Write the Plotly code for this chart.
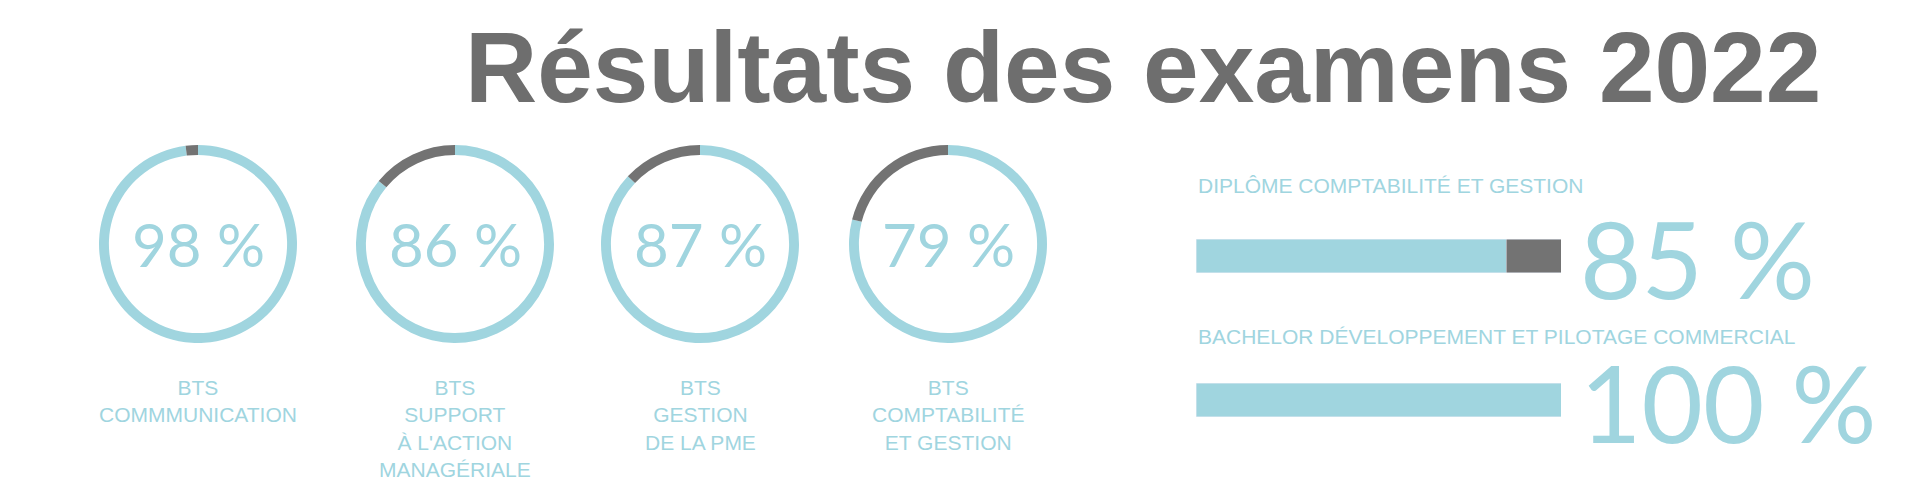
import plotly.graph_objects as go

title = "Résultats des examens 2022"
donut_labels = ["BTS<br>COMMMUNICATION", "BTS<br>SUPPORT<br>À L'ACTION<br>MANAGÉRIALE",
                "BTS<br>GESTION<br>DE LA PME", "BTS<br>COMPTABILITÉ<br>ET GESTION"]
donut_values = [98, 86, 87, 79]
bar_labels = ["DIPLÔME COMPTABILITÉ ET GESTION", "BACHELOR DÉVELOPPEMENT ET PILOTAGE COMMERCIAL"]
bar_values = [85, 100]

BLUE = "#a0d5df"
GREY = "#737373"
W, H = 1920, 483

fig = go.Figure()

centers_x = [190, 447, 692, 940]
cy, r = 236, 99
for cx, val, lab in zip(centers_x, donut_values, donut_labels):
    fig.add_trace(go.Pie(
        values=[val, 100 - val], marker=dict(colors=[BLUE, GREY]),
        hole=0.9, sort=False, direction="clockwise", rotation=0,
        textinfo="none", hoverinfo="skip", showlegend=False,
        domain=dict(x=[(cx - r) / W, (cx + r) / W], y=[1 - (cy + r) / H, 1 - (cy - r) / H]),
    ))
    fig.add_annotation(x=cx / W, y=1 - cy / H, xref="paper", yref="paper",
                       text=f"{val} %", showarrow=False, xanchor="center", yanchor="middle",
                       font=dict(family="Lato", size=60, color=BLUE))
    fig.add_annotation(x=cx / W, y=1 - 366 / H, xref="paper", yref="paper",
                       text=lab, showarrow=False, xanchor="center", yanchor="top",
                       font=dict(family="Liberation Sans", size=21, color=BLUE))

fig.add_trace(go.Bar(y=bar_labels, x=bar_values, orientation="h", marker_color=BLUE,
                     width=0.23, hoverinfo="skip", showlegend=False))
fig.add_trace(go.Bar(y=bar_labels, x=[100 - v for v in bar_values], orientation="h",
                     marker_color=GREY, width=0.23, hoverinfo="skip", showlegend=False))

label_y = [178, 328]
big_y = [250, 394]
for lab, val, ly, by in zip(bar_labels, bar_values, label_y, big_y):
    fig.add_annotation(x=1188 / W, y=1 - ly / H, xref="paper", yref="paper", text=lab,
                       showarrow=False, xanchor="left", yanchor="middle",
                       font=dict(family="Liberation Sans", size=21, color=BLUE))
    fig.add_annotation(x=1570 / W, y=1 - by / H, xref="paper", yref="paper", text=f"{val} %",
                       showarrow=False, xanchor="left", yanchor="middle",
                       font=dict(family="Lato", size=106, color=BLUE))

fig.add_annotation(x=1135 / W, y=1 - 59 / H, xref="paper", yref="paper", text=f"<b>{title}</b>",
                   showarrow=False, xanchor="center", yanchor="middle",
                   font=dict(family="Liberation Sans", size=100, color="#6e6e6e"))

fig.update_layout(
    barmode="stack", width=W, height=H, margin=dict(l=0, r=0, t=0, b=0),
    paper_bgcolor="white", plot_bgcolor="white",
    xaxis=dict(domain=[1188 / W, 1553 / W], range=[0, 100], visible=False),
    yaxis=dict(domain=[1 - 464 / H, 1 - 176 / H], autorange="reversed", visible=False),
)

fig.write_html("out.html")
